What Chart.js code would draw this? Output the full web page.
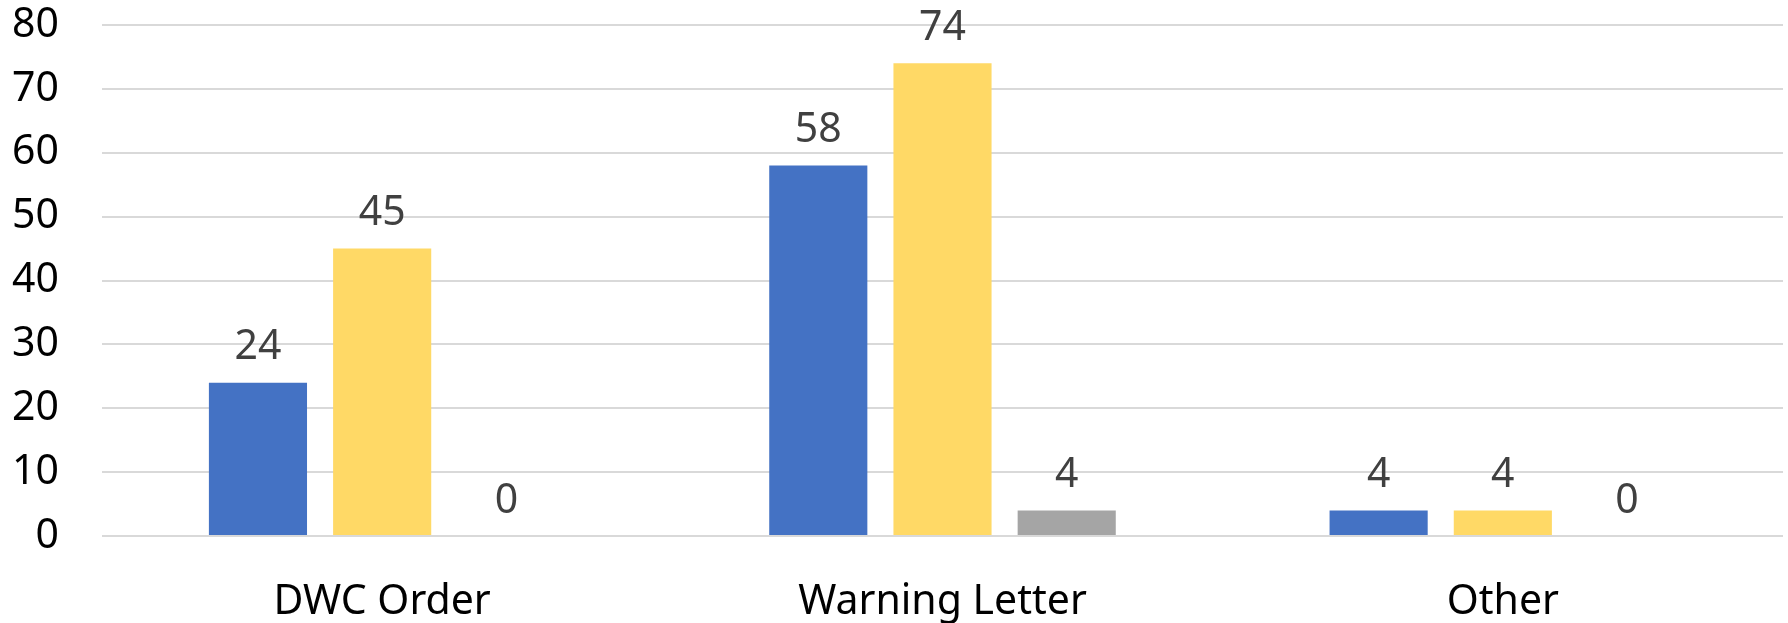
<!DOCTYPE html>
<html>
<head>
<meta charset="utf-8">
<script src="https://cdn.jsdelivr.net/npm/chart.js@4.4.1/dist/chart.umd.min.js"></script>
<style>
  html, body { margin: 0; padding: 0; background: #ffffff; }
  #wrap { width: 1788px; height: 623px; }
</style>
</head>
<body>
<div id="wrap"><canvas id="chart" width="1788" height="623"></canvas></div>
<script>
// Enforcement actions by type, three series per category
const categories = ["DWC Order", "Warning Letter", "Other"];
const seriesA = [24, 58, 4];
const seriesB = [45, 74, 4];
const seriesC = [0, 4, 0];
const yTicks = [0, 10, 20, 30, 40, 50, 60, 70, 80];

const FONT = "'Noto Sans', 'Open Sans', sans-serif";

// Writes each bar's value above it
const valueLabels = {
  id: 'valueLabels',
  afterDatasetsDraw(chart) {
    const ctx = chart.ctx;
    ctx.save();
    ctx.font = "41px " + FONT;
    ctx.fillStyle = "#404040";
    ctx.textAlign = "center";
    ctx.textBaseline = "middle";
    chart.data.datasets.forEach((ds, i) => {
      const meta = chart.getDatasetMeta(i);
      meta.data.forEach((bar, j) => {
        ctx.fillText(String(ds.data[j]), bar.x, bar.y - 35);
      });
    });
    ctx.restore();
  }
};

new Chart(document.getElementById('chart'), {
  type: 'bar',
  data: {
    labels: categories,
    datasets: [
      { data: seriesA, backgroundColor: '#4472C4' },
      { data: seriesB, backgroundColor: '#FFD966' },
      { data: seriesC, backgroundColor: '#A5A5A5' }
    ]
  },
  options: {
    responsive: false,
    animation: false,
    devicePixelRatio: 1,
    layout: { padding: { top: 25, right: 5, left: 0, bottom: 0 } },
    datasets: {
      bar: { categoryPercentage: 0.665, barPercentage: 0.79 }
    },
    plugins: {
      legend: { display: false },
      tooltip: { enabled: false }
    },
    scales: {
      x: {
        grid: { display: false, drawTicks: false },
        border: { display: false },
        ticks: { color: '#000000', font: { family: FONT, size: 41 }, padding: 42 },
        afterFit(scale) {
          scale.height = 87;
          scale.paddingLeft = 0;
          scale.paddingRight = 0;
        }
      },
      y: {
        min: 0,
        max: 80,
        afterBuildTicks(scale) { scale.ticks = yTicks.map(v => ({ value: v })); },
        grid: { color: '#D9D9D9', lineWidth: 2, drawTicks: false },
        border: { display: false },
        ticks: { color: '#000000', font: { family: FONT, size: 41 }, padding: 43 },
        afterFit(scale) {
          scale.width = 102;
          scale.paddingTop = 0;
          scale.paddingBottom = 0;
        }
      }
    }
  },
  plugins: [valueLabels]
});
</script>
</body>
</html>
